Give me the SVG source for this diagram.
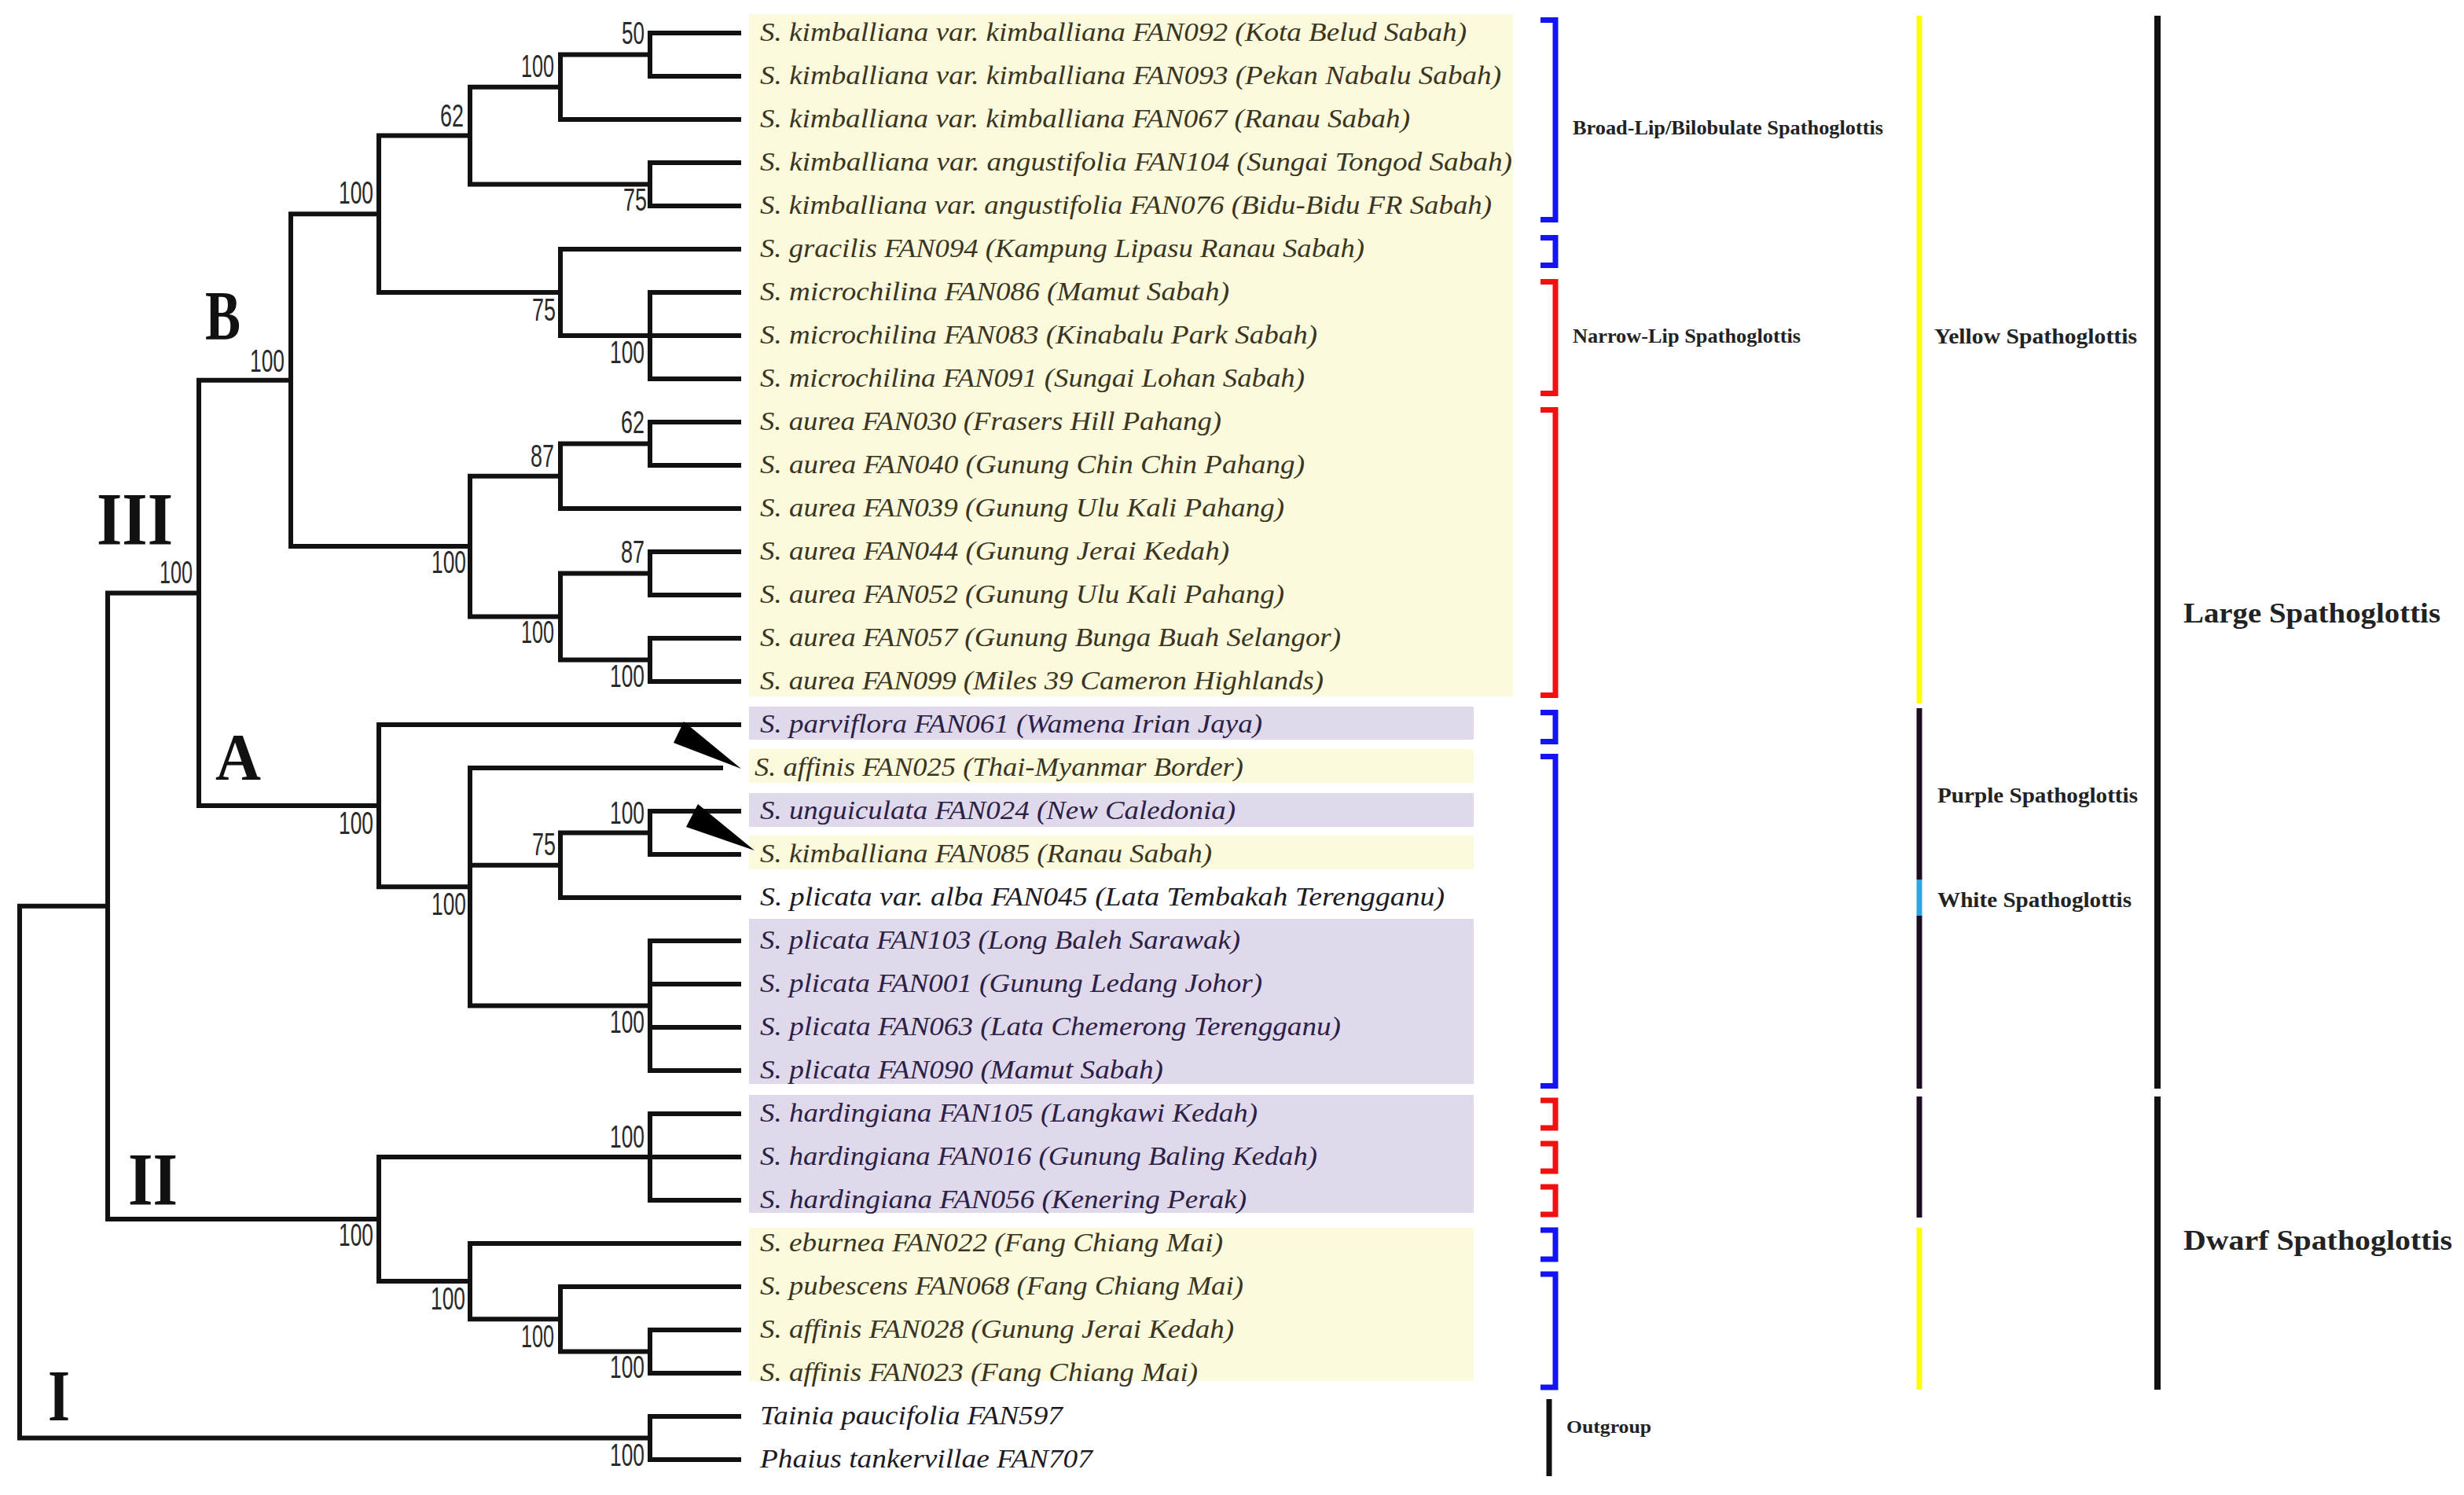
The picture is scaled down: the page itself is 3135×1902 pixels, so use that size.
<svg xmlns="http://www.w3.org/2000/svg" width="3135" height="1902" viewBox="0 0 3135 1902">
<style>
.br{fill:none;stroke:#111;stroke-width:6;stroke-linecap:square}
.lf{font-family:"Liberation Serif",serif;font-style:italic;font-size:34px;lengthAdjust:spacingAndGlyphs}
.ty{fill:#3a3522}
.tp{fill:#2b2145}
.tw{fill:#1c1a24}
.sv{font-family:"Liberation Sans",sans-serif;font-size:40px;fill:#2a2a2a;text-anchor:end}
.cl{font-family:"Liberation Serif",serif;font-weight:bold;fill:#111}
.gl{font-family:"Liberation Serif",serif;font-weight:bold;fill:#222}
.bk{fill:none;stroke-width:7;stroke-linejoin:miter}
.bb{stroke:#1414f0}
.bred{stroke:#f01010}
.yb{fill:#fcfadc}
.pb{fill:#e0d9eb}
</style>
<rect x="0" y="0" width="3135" height="1902" fill="#ffffff"/>
<g id="backgrounds">
<rect class="yb" x="953" y="18" width="972" height="868"/>
<rect class="pb" x="953" y="899" width="922" height="42"/>
<rect class="yb" x="953" y="953" width="922" height="43"/>
<rect class="pb" x="953" y="1009" width="922" height="43"/>
<rect class="yb" x="953" y="1063" width="922" height="43"/>
<rect class="pb" x="953" y="1169" width="922" height="210"/>
<rect class="pb" x="953" y="1393" width="922" height="150"/>
<rect class="yb" x="953" y="1562" width="922" height="195"/>
</g>
<g id="connectors">
<path class="br" d="M25,1152.7V1829.5 M25,1152.7H137 M25,1829.5H827
M137,754.4V1551 M137,754.4H253 M137,1551H482
M253,483.7V1025.1 M253,483.7H370 M253,1025.1H482
M370,272.3V695.1 M370,272.3H482 M370,695.1H598
M482,172.6V372 M482,172.6H598 M482,372H713
M598,110.75V234.5 M598,110.75H713 M598,234.5H827
M713,69.5V152 M713,69.5H827 M713,152H940
M827,42V97 M827,42H940 M827,97H940
M827,207V262 M827,207H940 M827,262H940
M713,317V427 M713,317H940 M713,427H827
M827,372V482 M827,372H940 M827,427H940 M827,482H940
M598,605.75V784.5 M598,605.75H713 M598,784.5H713
M713,564.5V647 M713,564.5H827 M713,647H940
M827,537V592 M827,537H940 M827,592H940
M713,729.5V839.5 M713,729.5H827 M713,839.5H827
M827,702V757 M827,702H940 M827,757H940
M827,812V867 M827,812H940 M827,867H940
M482,922V1128.25 M482,922H940 M482,1128.25H598
M598,977V1279.5 M598,977H917 M598,1100.75H713 M598,1279.5H827
M713,1059.5V1142 M713,1059.5H827 M713,1142H940
M827,1032V1087 M827,1032H940 M827,1087H940
M827,1197V1362 M827,1197H940 M827,1252H940 M827,1307H940 M827,1362H940
M482,1472V1630.1 M482,1472H827 M482,1630.1H598
M827,1417V1527 M827,1417H940 M827,1472H940 M827,1527H940
M598,1582V1678.25 M598,1582H940 M598,1678.25H713
M713,1637V1719.5 M713,1637H940 M713,1719.5H827
M827,1692V1747 M827,1692H940 M827,1747H940
M827,1802V1857 M827,1802H940 M827,1857H940"/>
<polygon points="870,918 857,945 943,978" fill="#000"/>
<polygon points="888,1023 873,1052 960,1082" fill="#000"/>
</g>
<g id="support">
<text class="sv" x="820" y="56" textLength="29" lengthAdjust="spacingAndGlyphs">50</text>
<text class="sv" x="705" y="98" textLength="42" lengthAdjust="spacingAndGlyphs">100</text>
<text class="sv" x="590" y="161" textLength="30" lengthAdjust="spacingAndGlyphs">62</text>
<text class="sv" x="823" y="268" textLength="30" lengthAdjust="spacingAndGlyphs">75</text>
<text class="sv" x="475" y="259" textLength="44" lengthAdjust="spacingAndGlyphs">100</text>
<text class="sv" x="707" y="408" textLength="30" lengthAdjust="spacingAndGlyphs">75</text>
<text class="sv" x="820" y="462" textLength="44" lengthAdjust="spacingAndGlyphs">100</text>
<text class="sv" x="362" y="473" textLength="44" lengthAdjust="spacingAndGlyphs">100</text>
<text class="sv" x="820" y="551" textLength="30" lengthAdjust="spacingAndGlyphs">62</text>
<text class="sv" x="705" y="594" textLength="30" lengthAdjust="spacingAndGlyphs">87</text>
<text class="sv" x="820" y="716" textLength="30" lengthAdjust="spacingAndGlyphs">87</text>
<text class="sv" x="593" y="729" textLength="44" lengthAdjust="spacingAndGlyphs">100</text>
<text class="sv" x="705" y="818" textLength="42" lengthAdjust="spacingAndGlyphs">100</text>
<text class="sv" x="820" y="874" textLength="44" lengthAdjust="spacingAndGlyphs">100</text>
<text class="sv" x="245" y="742" textLength="42" lengthAdjust="spacingAndGlyphs">100</text>
<text class="sv" x="475" y="1061" textLength="44" lengthAdjust="spacingAndGlyphs">100</text>
<text class="sv" x="820" y="1048" textLength="44" lengthAdjust="spacingAndGlyphs">100</text>
<text class="sv" x="707" y="1088" textLength="30" lengthAdjust="spacingAndGlyphs">75</text>
<text class="sv" x="593" y="1164" textLength="44" lengthAdjust="spacingAndGlyphs">100</text>
<text class="sv" x="820" y="1314" textLength="44" lengthAdjust="spacingAndGlyphs">100</text>
<text class="sv" x="820" y="1460" textLength="44" lengthAdjust="spacingAndGlyphs">100</text>
<text class="sv" x="475" y="1585" textLength="44" lengthAdjust="spacingAndGlyphs">100</text>
<text class="sv" x="592" y="1666" textLength="44" lengthAdjust="spacingAndGlyphs">100</text>
<text class="sv" x="705" y="1714" textLength="42" lengthAdjust="spacingAndGlyphs">100</text>
<text class="sv" x="820" y="1753" textLength="44" lengthAdjust="spacingAndGlyphs">100</text>
<text class="sv" x="820" y="1865" textLength="44" lengthAdjust="spacingAndGlyphs">100</text>
</g>
<g id="clade-labels">
<text class="cl" x="261" y="431" font-size="88" textLength="45" lengthAdjust="spacingAndGlyphs">B</text>
<text class="cl" x="123" y="693" font-size="96" textLength="97" lengthAdjust="spacingAndGlyphs">III</text>
<text class="cl" x="274" y="992" font-size="85" textLength="58" lengthAdjust="spacingAndGlyphs">A</text>
<text class="cl" x="163" y="1533" font-size="96" textLength="63" lengthAdjust="spacingAndGlyphs">II</text>
<text class="cl" x="61" y="1807" font-size="94" textLength="28" lengthAdjust="spacingAndGlyphs">I</text>
</g>
<g id="leaves">
<g id="leaf1"><text class="lf ty" x="967" y="52" textLength="899" lengthAdjust="spacingAndGlyphs">S. kimballiana var. kimballiana FAN092 (Kota Belud Sabah)</text></g>
<g id="leaf2"><text class="lf ty" x="967" y="107" textLength="943" lengthAdjust="spacingAndGlyphs">S. kimballiana var. kimballiana FAN093 (Pekan Nabalu Sabah)</text></g>
<g id="leaf3"><text class="lf ty" x="967" y="162" textLength="827" lengthAdjust="spacingAndGlyphs">S. kimballiana var. kimballiana FAN067 (Ranau Sabah)</text></g>
<g id="leaf4"><text class="lf ty" x="967" y="217" textLength="957" lengthAdjust="spacingAndGlyphs">S. kimballiana var. angustifolia FAN104 (Sungai Tongod Sabah)</text></g>
<g id="leaf5"><text class="lf ty" x="967" y="272" textLength="931" lengthAdjust="spacingAndGlyphs">S. kimballiana var. angustifolia FAN076 (Bidu-Bidu FR Sabah)</text></g>
<g id="leaf6"><text class="lf ty" x="967" y="327" textLength="769" lengthAdjust="spacingAndGlyphs">S. gracilis FAN094 (Kampung Lipasu Ranau Sabah)</text></g>
<g id="leaf7"><text class="lf ty" x="967" y="382" textLength="597" lengthAdjust="spacingAndGlyphs">S. microchilina FAN086 (Mamut Sabah)</text></g>
<g id="leaf8"><text class="lf ty" x="967" y="437" textLength="709" lengthAdjust="spacingAndGlyphs">S. microchilina FAN083 (Kinabalu Park Sabah)</text></g>
<g id="leaf9"><text class="lf ty" x="967" y="492" textLength="693" lengthAdjust="spacingAndGlyphs">S. microchilina FAN091 (Sungai Lohan Sabah)</text></g>
<g id="leaf10"><text class="lf ty" x="967" y="547" textLength="587" lengthAdjust="spacingAndGlyphs">S. aurea FAN030 (Frasers Hill Pahang)</text></g>
<g id="leaf11"><text class="lf ty" x="967" y="602" textLength="693" lengthAdjust="spacingAndGlyphs">S. aurea FAN040 (Gunung Chin Chin Pahang)</text></g>
<g id="leaf12"><text class="lf ty" x="967" y="657" textLength="667" lengthAdjust="spacingAndGlyphs">S. aurea FAN039 (Gunung Ulu Kali Pahang)</text></g>
<g id="leaf13"><text class="lf ty" x="967" y="712" textLength="597" lengthAdjust="spacingAndGlyphs">S. aurea FAN044 (Gunung Jerai Kedah)</text></g>
<g id="leaf14"><text class="lf ty" x="967" y="767" textLength="667" lengthAdjust="spacingAndGlyphs">S. aurea FAN052 (Gunung Ulu Kali Pahang)</text></g>
<g id="leaf15"><text class="lf ty" x="967" y="822" textLength="739" lengthAdjust="spacingAndGlyphs">S. aurea FAN057 (Gunung Bunga Buah Selangor)</text></g>
<g id="leaf16"><text class="lf ty" x="967" y="877" textLength="717" lengthAdjust="spacingAndGlyphs">S. aurea FAN099 (Miles 39 Cameron Highlands)</text></g>
<g id="leaf17"><text class="lf tp" x="967" y="932" textLength="639" lengthAdjust="spacingAndGlyphs">S. parviflora FAN061 (Wamena Irian Jaya)</text></g>
<g id="leaf18"><text class="lf ty" x="960" y="987" textLength="622" lengthAdjust="spacingAndGlyphs">S. affinis FAN025 (Thai-Myanmar Border)</text></g>
<g id="leaf19"><text class="lf tp" x="967" y="1042" textLength="605" lengthAdjust="spacingAndGlyphs">S. unguiculata FAN024 (New Caledonia)</text></g>
<g id="leaf20"><text class="lf ty" x="967" y="1097" textLength="575" lengthAdjust="spacingAndGlyphs">S. kimballiana FAN085 (Ranau Sabah)</text></g>
<g id="leaf21"><text class="lf tw" x="967" y="1152" textLength="871" lengthAdjust="spacingAndGlyphs">S. plicata var. alba FAN045 (Lata Tembakah Terengganu)</text></g>
<g id="leaf22"><text class="lf tp" x="967" y="1207" textLength="611" lengthAdjust="spacingAndGlyphs">S. plicata FAN103 (Long Baleh Sarawak)</text></g>
<g id="leaf23"><text class="lf tp" x="967" y="1262" textLength="639" lengthAdjust="spacingAndGlyphs">S. plicata FAN001 (Gunung Ledang Johor)</text></g>
<g id="leaf24"><text class="lf tp" x="967" y="1317" textLength="739" lengthAdjust="spacingAndGlyphs">S. plicata FAN063 (Lata Chemerong Terengganu)</text></g>
<g id="leaf25"><text class="lf tp" x="967" y="1372" textLength="513" lengthAdjust="spacingAndGlyphs">S. plicata FAN090 (Mamut Sabah)</text></g>
<g id="leaf26"><text class="lf tp" x="967" y="1427" textLength="633" lengthAdjust="spacingAndGlyphs">S. hardingiana FAN105 (Langkawi Kedah)</text></g>
<g id="leaf27"><text class="lf tp" x="967" y="1482" textLength="709" lengthAdjust="spacingAndGlyphs">S. hardingiana FAN016 (Gunung Baling Kedah)</text></g>
<g id="leaf28"><text class="lf tp" x="967" y="1537" textLength="619" lengthAdjust="spacingAndGlyphs">S. hardingiana FAN056 (Kenering Perak)</text></g>
<g id="leaf29"><text class="lf ty" x="967" y="1592" textLength="589" lengthAdjust="spacingAndGlyphs">S. eburnea FAN022 (Fang Chiang Mai)</text></g>
<g id="leaf30"><text class="lf ty" x="967" y="1647" textLength="615" lengthAdjust="spacingAndGlyphs">S. pubescens FAN068 (Fang Chiang Mai)</text></g>
<g id="leaf31"><text class="lf ty" x="967" y="1702" textLength="603" lengthAdjust="spacingAndGlyphs">S. affinis FAN028 (Gunung Jerai Kedah)</text></g>
<g id="leaf32"><text class="lf ty" x="967" y="1757" textLength="557" lengthAdjust="spacingAndGlyphs">S. affinis FAN023 (Fang Chiang Mai)</text></g>
<g id="leaf33"><text class="lf tw" x="967" y="1812" textLength="385" lengthAdjust="spacingAndGlyphs">Tainia paucifolia FAN597</text></g>
<g id="leaf34"><text class="lf tw" x="967" y="1867" textLength="423" lengthAdjust="spacingAndGlyphs">Phaius tankervillae FAN707</text></g>
</g>
<g id="brackets">
<path class="bk bb" d="M1960,25.5H1979V279.5H1960"/>
<path class="bk bb" d="M1960,302.5H1979V337.5H1960"/>
<path class="bk bred" d="M1960,358.5H1979V500.5H1960"/>
<path class="bk bred" d="M1960,521.5H1979V884.5H1960"/>
<path class="bk bb" d="M1960,906.5H1979V943.5H1960"/>
<path class="bk bb" d="M1960,962.5H1979V1381.5H1960"/>
<path class="bk bred" d="M1960,1400H1979V1435H1960"/>
<path class="bk bred" d="M1960,1455H1979V1490H1960"/>
<path class="bk bred" d="M1960,1510H1979V1545H1960"/>
<path class="bk bb" d="M1960,1565H1979V1602H1960"/>
<path class="bk bb" d="M1960,1621H1979V1765H1960"/>
<line x1="1971" y1="1780" x2="1971" y2="1878" stroke="#111" stroke-width="7"/>
</g>
<g id="color-bars">
<line x1="2442" y1="20" x2="2442" y2="895" stroke="#ffff00" stroke-width="7"/>
<line x1="2442" y1="901" x2="2442" y2="1119" stroke="#1c0e22" stroke-width="7"/>
<line x1="2442" y1="1119" x2="2442" y2="1165" stroke="#2aa6e2" stroke-width="7"/>
<line x1="2442" y1="1165" x2="2442" y2="1385" stroke="#1c0e22" stroke-width="7"/>
<line x1="2442" y1="1395" x2="2442" y2="1549" stroke="#1c0e22" stroke-width="7"/>
<line x1="2442" y1="1562" x2="2442" y2="1768" stroke="#ffff00" stroke-width="7"/>
<line x1="2745" y1="20" x2="2745" y2="1385" stroke="#111" stroke-width="8"/>
<line x1="2745" y1="1395" x2="2745" y2="1768" stroke="#111" stroke-width="8"/>
</g>
<g id="group-labels">
<text class="gl" x="2001" y="171" font-size="25" textLength="395" lengthAdjust="spacingAndGlyphs">Broad-Lip/Bilobulate Spathoglottis</text>
<text class="gl" x="2001" y="436" font-size="25" textLength="290" lengthAdjust="spacingAndGlyphs">Narrow-Lip Spathoglottis</text>
<text class="gl" x="2461" y="437" font-size="27" textLength="258" lengthAdjust="spacingAndGlyphs">Yellow Spathoglottis</text>
<text class="gl" x="2465" y="1021" font-size="27" textLength="255" lengthAdjust="spacingAndGlyphs">Purple Spathoglottis</text>
<text class="gl" x="2465" y="1154" font-size="27" textLength="247" lengthAdjust="spacingAndGlyphs">White Spathoglottis</text>
<text class="gl" x="2778" y="792" font-size="36" textLength="327" lengthAdjust="spacingAndGlyphs">Large Spathoglottis</text>
<text class="gl" x="2778" y="1590" font-size="36" textLength="342" lengthAdjust="spacingAndGlyphs">Dwarf Spathoglottis</text>
<text class="gl" x="1993" y="1823" font-size="24" textLength="108" lengthAdjust="spacingAndGlyphs">Outgroup</text>
</g>
</svg>
